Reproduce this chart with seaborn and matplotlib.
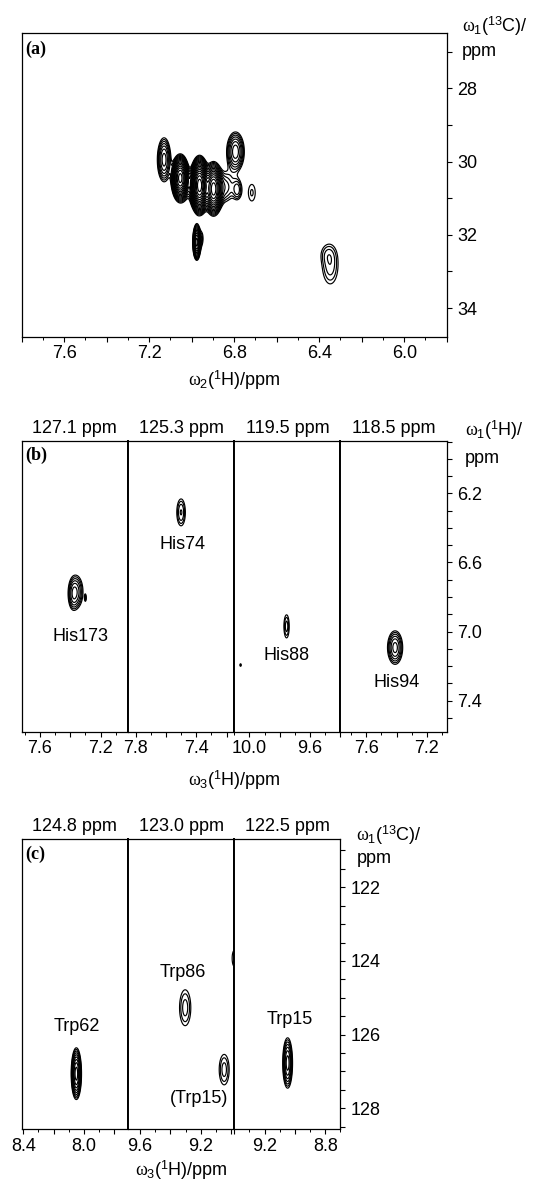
import numpy as np
import matplotlib
matplotlib.use("Agg")
import matplotlib.pyplot as plt
import seaborn as sns
from matplotlib.ticker import MultipleLocator, FuncFormatter

sns.set_theme(style="ticks")
plt.rcParams['font.family'] = ['Liberation Sans', 'DejaVu Sans']
plt.rcParams['mathtext.fontset'] = 'custom'
plt.rcParams['mathtext.rm'] = 'Liberation Sans'
plt.rcParams['mathtext.it'] = 'Liberation Serif'
plt.rcParams['mathtext.bf'] = 'Liberation Sans:bold'
plt.rcParams['axes.edgecolor'] = 'black'
plt.rcParams['xtick.color'] = 'black'
plt.rcParams['ytick.color'] = 'black'
plt.rcParams['text.color'] = 'black'

W, H = 538, 1183
FS = 13

# ---- panel (a): 2D 13C-1H plane, peak list (ppm) ----
a_xlim = (7.8, 5.8)
a_ylim = (34.78, 26.5)
a_x = [7.130, 7.054, 6.963, 6.897, 6.794, 6.784, 6.717, 6.840, 6.960, 6.976, 6.952, 6.348, 6.365]
a_y = [29.95, 30.45, 30.65, 30.75, 29.73, 30.77, 30.85, 30.70, 30.70, 32.20, 32.10, 32.85, 32.50]
a_amp = [4.3, 25.0, 40.0, 20.0, 4.5, 2.0, 1.3, 2.0, 1.5, 10.4, 1.2, 1.8, 0.6]
a_sx = [0.0186, 0.017, 0.017, 0.018, 0.024, 0.015, 0.022, 0.030, 0.060, 0.009, 0.008, 0.033, 0.030]
a_sy = [0.35, 0.26, 0.30, 0.30, 0.31, 0.20, 0.31, 0.30, 0.35, 0.23, 0.20, 0.45, 0.20]
a_xlabels = [7.6, 7.2, 6.8, 6.4, 6.0]
a_ylabels = [28, 30, 32, 34]

# ---- panel (b): His strips ----
b_titles = ["127.1 ppm", "125.3 ppm", "119.5 ppm", "118.5 ppm"]
b_xlims = [(7.72, 7.02), (7.85, 7.15), (10.10, 9.40), (7.77, 7.07)]
b_xlabels = [[7.6, 7.2], [7.8, 7.4], [10.0, 9.6], [7.6, 7.2]]
b_ylim = (7.58, 5.895)
b_ylabels = [6.2, 6.6, 7.0, 7.4]
b_strip = [0, 0, 0, 1, 2, 2, 3]
b_x = [7.360, 7.385, 7.300, 7.500, 9.755, 10.058, 7.410]
b_y = [6.770, 6.790, 6.805, 6.310, 6.970, 7.194, 7.093]
b_amp = [2.7, 1.3, 1.3, 2.0, 1.75, 1.3, 3.4]
b_sx = [0.031, 0.020, 0.005, 0.024, 0.0165, 0.006, 0.032]
b_sy = [0.065, 0.060, 0.018, 0.066, 0.063, 0.010, 0.062]
b_names = ["His173", "His74", "His88", "His94"]
b_name_strip = [0, 1, 2, 3]
b_name_x = [7.335, 7.49, 9.755, 7.40]
b_name_y = [7.027, 6.497, 7.136, 7.293]

# ---- panel (c): Trp strips ----
c_titles = ["124.8 ppm", "123.0 ppm", "122.5 ppm"]
c_xlims = [(8.41, 7.71), (9.68, 8.98), (9.40, 8.70)]
c_xlabels = [[8.4, 8.0], [9.6, 9.2], [9.2, 8.8]]
c_ylim = (128.57, 120.69)
c_ylabels = [122, 124, 126, 128]
c_strip = [0, 1, 1, 1, 2]
c_x = [8.050, 9.303, 9.046, 8.979, 9.048]
c_y = [127.06, 125.27, 126.95, 123.93, 126.77]
c_amp = [6.7, 1.75, 1.75, 1.3, 4.3]
c_sx = [0.0175, 0.035, 0.031, 0.020, 0.019]
c_sy = [0.36, 0.46, 0.39, 0.30, 0.40]
c_names = ["Trp62", "Trp86", "(Trp15)", "Trp15"]
c_name_strip = [0, 1, 1, 2]
c_name_x = [8.05, 9.32, 9.21, 9.035]
c_name_y = [125.79, 124.31, 127.74, 125.59]

LEVELS = 1.25 ** np.arange(0, 22)
LW = 0.85


def px(x, y):
    return x / W, 1 - y / H


def spectrum(xlim, ylim, xs0, ys0, amps, sxs, sys_):
    xs = np.linspace(min(xlim), max(xlim), 900)
    ys = np.linspace(min(ylim), max(ylim), 900)
    X, Y = np.meshgrid(xs, ys)
    Z = np.zeros_like(X)
    for x0, y0, a, wx, wy in zip(xs0, ys0, amps, sxs, sys_):
        Z += a * np.exp(-0.5 * ((X - x0) / wx) ** 2 - 0.5 * ((Y - y0) / wy) ** 2)
    return X, Y, Z


def label_fmt(labels, digits=1):
    def f(v, pos):
        for l in labels:
            if abs(v - l) < 1e-6:
                return f"{l:.{digits}f}"
        return ""
    return FuncFormatter(f)


def style_x(ax, xlim, labels):
    ax.set_xlim(*xlim)
    ax.xaxis.set_major_locator(MultipleLocator(0.2))
    ax.xaxis.set_minor_locator(MultipleLocator(0.1))
    ax.xaxis.set_major_formatter(label_fmt(labels))
    ax.tick_params(axis='x', which='major', direction='out', length=3.5, width=0.8,
                   pad=2.5, labelsize=FS, bottom=True, top=False)
    ax.tick_params(axis='x', which='minor', direction='out', length=2, width=0.7,
                   bottom=True, top=False)


def style_y(ax, ylim, step, labels, right, digits):
    ax.set_ylim(*ylim)
    if right:
        ax.yaxis.tick_right()
        ax.yaxis.set_major_locator(MultipleLocator(step))
        ax.yaxis.set_major_formatter(label_fmt(labels, digits))
        ax.tick_params(axis='y', which='major', direction='out', length=3.5, width=0.8,
                       pad=4, labelsize=FS, right=True, left=False)
        ax.tick_params(axis='y', which='minor', right=False, left=False)
    else:
        ax.tick_params(axis='y', which='both', left=False, right=False,
                       labelleft=False, labelright=False)
    for s in ax.spines.values():
        s.set_linewidth(0.9)
        s.set_color('black')


fig = plt.figure(figsize=(W / 100, H / 100), dpi=100)
fig.patch.set_facecolor('white')

# ---- (a) ----
left, right = 21.7, 446.7
ax = fig.add_axes([left / W, 1 - 336.7 / H, (right - left) / W, (336.7 - 33.3) / H])
X, Y, Z = spectrum(a_xlim, a_ylim, a_x, a_y, a_amp, a_sx, a_sy)
ax.contour(X, Y, Z, levels=LEVELS, colors='black', linewidths=LW)
style_x(ax, a_xlim, a_xlabels)
style_y(ax, a_ylim, 1, a_ylabels, True, 0)
fig.text(*px(25, 49), "(a)", family='Liberation Serif', weight='bold', fontsize=FS,
         va='center', ha='left')
fig.text(*px(461.7, 26.7), r'$\omega_1$($^{13}$C)/', fontsize=FS, va='center', ha='left')
fig.text(*px(461.7, 51.6), "ppm", fontsize=FS, va='center', ha='left')
fig.text(*px((left + right) / 2, 380), r'$\omega_2$($^1$H)/ppm', fontsize=FS,
         va='center', ha='center')

# ---- (b) ----
sw = (right - left) / 4
top, bot = 440.7, 731.7
for i in range(4):
    x0 = left + i * sw
    ax = fig.add_axes([x0 / W, 1 - bot / H, sw / W, (bot - top) / H])
    idx = [k for k, s in enumerate(b_strip) if s == i]
    X, Y, Z = spectrum(b_xlims[i], b_ylim, [b_x[k] for k in idx], [b_y[k] for k in idx],
                       [b_amp[k] for k in idx], [b_sx[k] for k in idx], [b_sy[k] for k in idx])
    ax.contour(X, Y, Z, levels=LEVELS, colors='black', linewidths=LW)
    style_x(ax, b_xlims[i], b_xlabels[i])
    style_y(ax, b_ylim, 0.1, b_ylabels, i == 3, 1)
    if i > 0:
        ax.spines['left'].set_linewidth(1.4)
    if i < 3:
        ax.spines['right'].set_linewidth(1.4)
    for n, s, tx, ty in zip(b_names, b_name_strip, b_name_x, b_name_y):
        if s == i:
            ax.text(tx, ty, n, fontsize=FS, ha='center', va='center')
    fig.text(*px(x0 + sw / 2, 428.3), b_titles[i], fontsize=FS, ha='center', va='center')
fig.text(*px(25, 455.8), "(b)", family='Liberation Serif', weight='bold', fontsize=FS,
         va='center', ha='left')
fig.text(*px(465, 430), r'$\omega_1$($^1$H)/', fontsize=FS, va='center', ha='left')
fig.text(*px(465, 458.7), "ppm", fontsize=FS, va='center', ha='left')
fig.text(*px((left + right) / 2, 780), r'$\omega_3$($^1$H)/ppm', fontsize=FS,
         va='center', ha='center')

# ---- (c) ----
top, bot = 839, 1129.3
for i in range(3):
    x0 = left + i * sw
    ax = fig.add_axes([x0 / W, 1 - bot / H, sw / W, (bot - top) / H])
    idx = [k for k, s in enumerate(c_strip) if s == i]
    X, Y, Z = spectrum(c_xlims[i], c_ylim, [c_x[k] for k in idx], [c_y[k] for k in idx],
                       [c_amp[k] for k in idx], [c_sx[k] for k in idx], [c_sy[k] for k in idx])
    ax.contour(X, Y, Z, levels=LEVELS, colors='black', linewidths=LW)
    style_x(ax, c_xlims[i], c_xlabels[i])
    style_y(ax, c_ylim, 0.5, c_ylabels, i == 2, 0)
    if i > 0:
        ax.spines['left'].set_linewidth(1.4)
    if i < 2:
        ax.spines['right'].set_linewidth(1.4)
    for n, s, tx, ty in zip(c_names, c_name_strip, c_name_x, c_name_y):
        if s == i:
            ax.text(tx, ty, n, fontsize=FS, ha='center', va='center')
    fig.text(*px(x0 + sw / 2, 826.7), c_titles[i], fontsize=FS, ha='center', va='center')
c_right = left + 3 * sw
fig.text(*px(25, 854), "(c)", family='Liberation Serif', weight='bold', fontsize=FS,
         va='center', ha='left')
fig.text(*px(c_right + 16, 835), r'$\omega_1$($^{13}$C)/', fontsize=FS, va='center', ha='left')
fig.text(*px(c_right + 16, 858.3), "ppm", fontsize=FS, va='center', ha='left')
fig.text(*px((left + c_right) / 2, 1170), r'$\omega_3$($^1$H)/ppm', fontsize=FS,
         va='center', ha='center')

fig.savefig("out.png", dpi=100, facecolor='white')
